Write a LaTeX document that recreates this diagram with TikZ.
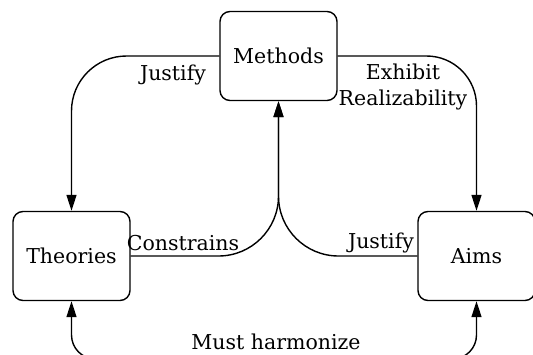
\documentclass[tikz,border=0pt]{standalone}
\usepackage{fontspec}
\setmainfont{DejaVu Serif}
\usetikzlibrary{arrows.meta}

\tikzset{
  box/.style={draw,line width=1.4pt,rounded corners=10pt,minimum width=117pt,minimum height=89pt,inner sep=0pt},
  link/.style={line width=1.4pt,-{Triangle[length=16pt,width=10pt]}},
  lbl/.style={inner sep=0pt,align=center}
}

\begin{document}
\begin{tikzpicture}[x=1pt,y=-1pt,font=\fontsize{20.5}{26}\selectfont]
\useasboundingbox (0,0) rectangle (533,354);

\node (methods) [box] at (278.5,56) {Methods};
\node (theories) [box] at (71.5,256) {Theories};
\node (aims) [box] at (476.5,256) {Aims};
\coordinate (low) at (276,359);

\draw[link,rounded corners=55pt] (methods.west) -| (theories.north);
\draw[link,rounded corners=50pt] (methods.east) -| (aims.north);
\draw[link,rounded corners=60pt] (theories.east) -| (methods.south);
\draw[link,rounded corners=60pt] (aims.west) -| (methods.south);
\draw[link,{Triangle[length=16pt,width=10pt]}-{Triangle[length=16pt,width=10pt]},rounded corners=24pt]
  (theories.south) |- (low) -| (aims.south);

\node (justifyA) [lbl] at (173,75) {Justify};
\node (exhibit) [lbl] at (403,87) {Exhibit\\Realizability};
\node (constrains) [lbl] at (183,243) {Constrains};
\node (justifyB) [lbl] at (381,243) {Justify};
\node (harmonize) [lbl] at (276,342) {Must harmonize};
\end{tikzpicture}
\end{document}
